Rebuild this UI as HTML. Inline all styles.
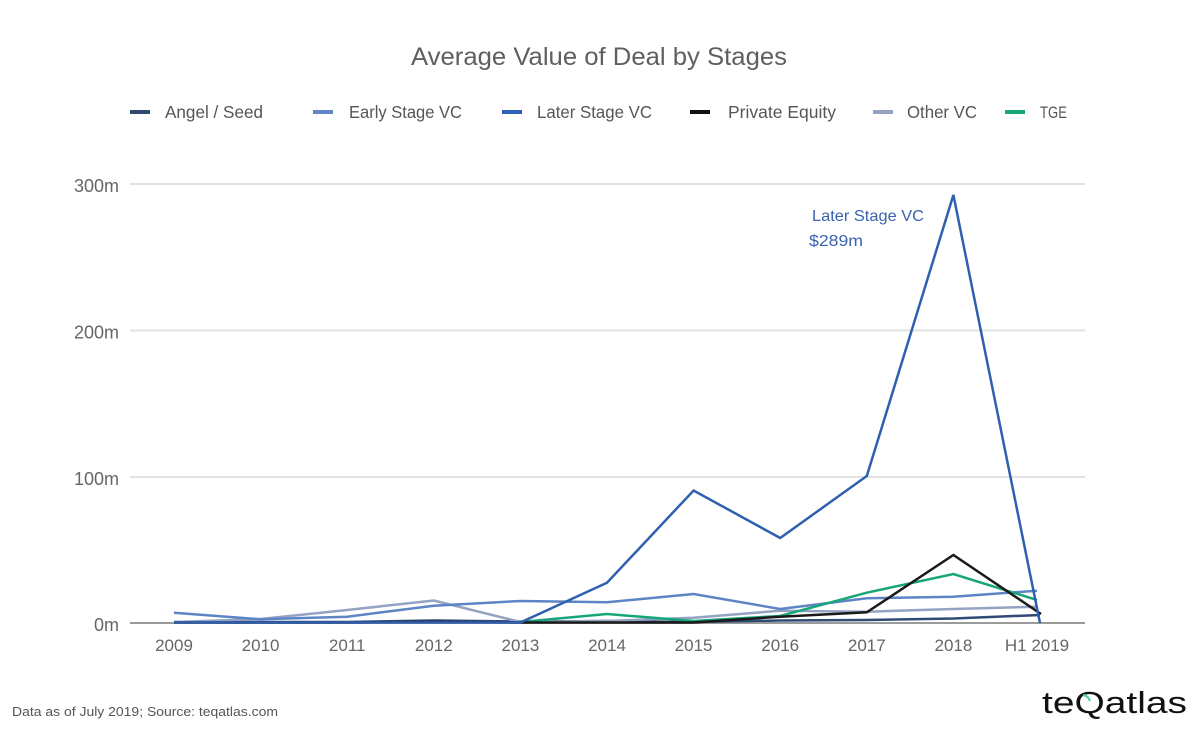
<!DOCTYPE html>
<html>
<head>
<meta charset="utf-8">
<style>
  html,body{margin:0;padding:0;background:#fff;}
  svg{display:block;}
  text{font-family:"Liberation Sans",sans-serif;}
</style>
</head>
<body>
<svg width="1200" height="732" viewBox="0 0 1200 732" xmlns="http://www.w3.org/2000/svg">
  <rect width="1200" height="732" fill="#fff"/>
  <!-- Title -->
  <text x="599" y="65" font-size="25" fill="#5f5f5f" text-anchor="middle" textLength="376" lengthAdjust="spacingAndGlyphs">Average Value of Deal by Stages</text>

  <!-- Legend -->
  <g font-size="17.5" fill="#555">
    <rect x="130" y="110" width="20" height="4" fill="#2f4a74"/>
    <text x="165" y="118" textLength="98" lengthAdjust="spacingAndGlyphs">Angel / Seed</text>
    <rect x="313" y="110" width="20" height="4" fill="#6287c6"/>
    <text x="349" y="118" textLength="113" lengthAdjust="spacingAndGlyphs">Early Stage VC</text>
    <rect x="502" y="110" width="20" height="4" fill="#2f5faf"/>
    <text x="537" y="118" textLength="115" lengthAdjust="spacingAndGlyphs">Later Stage VC</text>
    <rect x="690" y="110" width="20" height="4" fill="#111"/>
    <text x="728" y="118" textLength="108" lengthAdjust="spacingAndGlyphs">Private Equity</text>
    <rect x="873" y="110" width="20" height="4" fill="#94a3c3"/>
    <text x="907" y="118" textLength="70" lengthAdjust="spacingAndGlyphs">Other VC</text>
    <rect x="1005" y="110" width="20" height="4" fill="#17a57a"/>
    <text x="1040" y="118" font-size="16.5" textLength="27" lengthAdjust="spacingAndGlyphs">TGE</text>
  </g>

  <!-- Gridlines -->
  <g stroke="#e2e2e2" stroke-width="2">
    <line x1="130" y1="184" x2="1085" y2="184"/>
    <line x1="130" y1="330.5" x2="1085" y2="330.5"/>
    <line x1="130" y1="477" x2="1085" y2="477"/>
  </g>
  <line x1="130" y1="623" x2="1085" y2="623" stroke="#9a9a9a" stroke-width="2"/>

  <!-- Y labels -->
  <g font-size="18" fill="#666" text-anchor="end">
    <text x="119" y="192">300m</text>
    <text x="119" y="338.5">200m</text>
    <text x="119" y="485">100m</text>
    <text x="119" y="631">0m</text>
  </g>

  <!-- X labels -->
  <g font-size="17" fill="#666" text-anchor="middle">
    <text x="174" y="651">2009</text>
    <text x="260.6" y="651">2010</text>
    <text x="347.2" y="651">2011</text>
    <text x="433.8" y="651">2012</text>
    <text x="520.4" y="651">2013</text>
    <text x="607" y="651">2014</text>
    <text x="693.6" y="651">2015</text>
    <text x="780.2" y="651">2016</text>
    <text x="866.8" y="651">2017</text>
    <text x="953.4" y="651">2018</text>
    <text x="1037" y="651">H1 2019</text>
  </g>

  <!-- Series -->
  <g fill="none" stroke-width="2.5" stroke-linejoin="miter">
    <polyline stroke="#2f4a74" points="174,622 260.6,622 347.2,622 433.8,620.5 520.4,621.5 607,621 693.6,622 780.2,620.5 866.8,620 953.4,618.5 1040,615"/>
    <polyline stroke="#94a3c3" points="174,622 260.6,619 347.2,610 433.8,600.5 520.4,622 607,621 693.6,617.7 780.2,610.7 866.8,611.7 953.4,609 1037,606.7"/>
    <polyline stroke="#5d84c4" points="174,612.7 260.6,619.3 347.2,616.7 433.8,605.7 520.4,601 607,602.3 693.6,594 780.2,609 866.8,598.3 953.4,596.7 1037,590.7"/>
    <polyline stroke="#17a57a" points="520.4,622 607,614 693.6,621 780.2,616 866.8,592.7 953.4,574 1037,600"/>
    <polyline stroke="#1a1a1a" points="174,622.5 260.6,622.5 347.2,622.5 433.8,622 520.4,622.5 607,622.5 693.6,622.5 780.2,616.7 866.8,612.3 953.4,555 1041,614"/>
    <polyline stroke="#2f5faf" points="174,622.5 260.6,622.5 347.2,622.5 433.8,622.5 520.4,622.5 607,582.7 693.6,490.5 780.2,538 866.8,476 953.4,195 1040,623"/>
  </g>

  <!-- Annotation -->
  <g font-size="16" fill="#3a62ad">
    <text x="812" y="221" textLength="112" lengthAdjust="spacingAndGlyphs">Later Stage VC</text>
    <text x="809" y="246" textLength="54" lengthAdjust="spacingAndGlyphs">$289m</text>
  </g>

  <!-- Footer -->
  <text x="12" y="716" font-size="13" fill="#555" textLength="266" lengthAdjust="spacingAndGlyphs">Data as of July 2019; Source: teqatlas.com</text>

  <!-- Logo -->
  <text x="1042" y="713" font-size="31" fill="#111" textLength="145" lengthAdjust="spacingAndGlyphs">teQatlas</text>
  <path d="M1083,695 a9,9 0 0 1 7,6" stroke="#4fd1b0" stroke-width="2.2" fill="none"/>
</svg>
</body>
</html>
